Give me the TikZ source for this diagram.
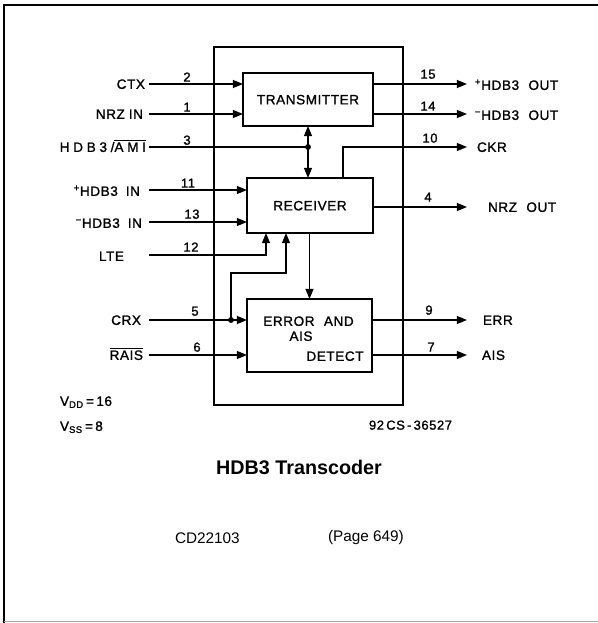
\documentclass[tikz,border=0pt]{standalone}
\usepackage{fontspec}
\setmainfont{Liberation Sans}
\newfontfamily\lblfont[LetterSpace=4,FakeBold=1.2]{Liberation Sans}
\newfontfamily\widefont[LetterSpace=27,FakeBold=1.2]{Liberation Sans}
\usetikzlibrary{arrows.meta,calc}
\begin{document}
\begin{tikzpicture}[x=0.75pt,y=-0.75pt,
  every node/.style={inner sep=0pt,outer sep=0pt},
  lbl/.style={font=\lblfont\fontsize{10.2}{11}\selectfont,text height=7.3pt,text depth=0pt},
  pinno/.style={font=\lblfont\fontsize{9.8}{11}\selectfont,text height=7pt,text depth=0pt},
  blk/.style={draw,line width=0.9pt},
  wire/.style={line width=0.9pt},
  arr/.style={wire,-{Triangle[length=7.6pt,width=6pt]}},
  dblarr/.style={wire,{Triangle[length=7.6pt,width=6pt]}-{Triangle[length=7.6pt,width=6pt]}},
  jdot/.style={circle,fill,minimum size=4.4pt},
  captxt/.style={font=\fontsize{11.5}{13}\selectfont}]
\useasboundingbox (0,0) rectangle (598,623);
% page frame
\draw[line width=2pt] (4,623) -- (4,5) -- (598,5);
\draw[line width=0.8pt,gray!70] (4,621.5) -- (598,621.5);

% blocks
\node[blk,minimum width=141.75pt,minimum height=268.5pt] (chip) at (308.5,226) {};
\node[blk,lbl,minimum width=97.5pt,minimum height=39.75pt] (tx) at (308,99.5) {TRANSMITTER};
\node[blk,lbl,minimum width=94.5pt,minimum height=41.25pt] (rx) at (310,205.5) {RECEIVER};
\node[blk,minimum width=93.75pt,minimum height=54.75pt] (err) at (309.5,335.5) {};
\node[lbl] (e1) at (308.5,321) {ERROR\hspace{7pt}AND};
\node[lbl] (e2) at (301,336) {AIS};
\node[lbl] (e3) at (335,356) {DETECT};

% input labels
\node[lbl,anchor=east] (lctx) at (145,84) {CTX};
\node[lbl,anchor=east] (lnrz) at (143,114) {NRZ\hspace{3pt}IN};
\node[lbl,anchor=east,font=\widefont\fontsize{10.2}{11}\selectfont] (lami) at (146,147) {HDB3/$\overline{\hbox{AMI}}$};
\node[lbl,anchor=east] (lphi) at (140,191) {\textsuperscript{+}HDB3\hspace{6pt}IN};
\node[lbl,anchor=east] (lmhi) at (142,223) {\textsuperscript{−}HDB3\hspace{6pt}IN};
\node[lbl,anchor=east] (llte) at (124,256) {LTE};
\node[lbl,anchor=east] (lcrx) at (141,320) {CRX};
\node[lbl,anchor=east] (lrais) at (143,355) {$\overline{\hbox{RAIS}}$};

% input wire starts
\coordinate (i2) at (149,84);
\coordinate (i1) at (149,114);
\coordinate (i3) at (149,147);
\coordinate (i11) at (149,190);
\coordinate (i13) at (149,222);
\coordinate (i12) at (149,255);
\coordinate (i5) at (149,320);
\coordinate (i6) at (149,355);

% output wire ends
\coordinate (o15) at (467,84);
\coordinate (o14) at (467,114);
\coordinate (o10) at (467,147);
\coordinate (o4) at (467,207);
\coordinate (o9) at (467,320);
\coordinate (o7) at (467,355);

% output labels
\node[lbl,anchor=west] (lpho) at (475,85) {\textsuperscript{+}HDB3\hspace{7pt}OUT};
\node[lbl,anchor=west] (lmho) at (475,115) {\textsuperscript{−}HDB3\hspace{7pt}OUT};
\node[lbl,anchor=west] (lckr) at (477,147) {CKR};
\node[lbl,anchor=west] (lnrzo) at (488,207) {NRZ\hspace{7pt}OUT};
\node[lbl,anchor=west] (lerr) at (483,320) {ERR};
\node[lbl,anchor=west] (lais) at (482,355) {AIS};

% input connectors
\draw[arr] (i2) -- (i2 -| tx.west);
\draw[arr] (i1) -- (i1 -| tx.west);
\node[jdot] (j1) at (i3 -| tx.south) {};
\draw[wire] (i3) -- (j1.center);
\draw[dblarr] (tx.south) -- (tx.south |- rx.north);
\draw[arr] (i11) -- (i11 -| rx.west);
\draw[arr] (i13) -- (i13 -| rx.west);
\coordinate (rlte) at ($(rx.south west)+(19,0)$);
\coordinate (rcrx) at ($(rx.south west)+(39,0)$);
\draw[arr] (i12) -| (rlte);
\node[jdot] (j2) at (231,320) {};
\draw[arr] (i5) -- (i5 -| err.west);
\draw[arr] (j2.center) |- ($(rcrx)+(0,40)$) -- (rcrx);
\draw[arr] (i6) -- (i6 -| err.west);
\draw[arr] (err.north |- rx.south) -- (err.north);

% output connectors
\draw[arr] (o15 -| tx.east) -- (o15);
\draw[arr] (o14 -| tx.east) -- (o14);
\coordinate (rckr) at ($(rx.north west)+(96,0)$);
\draw[arr] (rckr) |- (o10);
\draw[arr] (o4 -| rx.east) -- (o4);
\draw[arr] (o9 -| err.east) -- (o9);
\draw[arr] (o7 -| err.east) -- (o7);

% pin numbers
\node[pinno] (p2) at (187,77) {2};
\node[pinno] (p1) at (187,107) {1};
\node[pinno] (p3) at (187,140) {3};
\node[pinno] (p11) at (188,183) {11};
\node[pinno] (p13) at (192,214) {13};
\node[pinno] (p12) at (191,247) {12};
\node[pinno] (p5) at (195,311) {5};
\node[pinno] (p6) at (197,347) {6};
\node[pinno] (p15) at (428,74) {15};
\node[pinno] (p14) at (428,106) {14};
\node[pinno] (p10) at (430,138) {10};
\node[pinno] (p4) at (428,197) {4};
\node[pinno] (p9) at (429,310) {9};
\node[pinno] (p7) at (431,347) {7};

% supply notes and figure number
\node[lbl,anchor=west] (vdd) at (60,401) {V\textsubscript{DD}\,=\,16};
\node[lbl,anchor=west] (vss) at (60,426) {V\textsubscript{SS}\,=\,8};
\node[pinno,anchor=west] (fig) at (369,425) {92\,CS\,-\,36527};

% caption
\node[font=\bfseries\fontsize{14.8}{17}\selectfont] (title) at (299,467) {HDB3 Transcoder};
\node[captxt,anchor=west] (part) at (175,538) {CD22103};
\node[captxt,anchor=west] (page) at (328,538) {(Page 649)};
\end{tikzpicture}
\end{document}
